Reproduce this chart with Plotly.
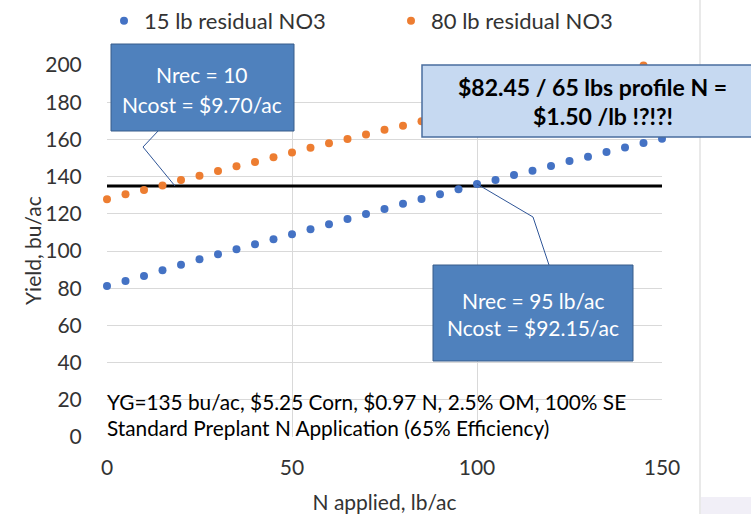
import plotly.graph_objects as go

# ---- data ----
n_applied = [0, 5, 10, 15, 20, 25, 30, 35, 40, 45, 50, 55, 60, 65, 70, 75,
             80, 85, 90, 95, 100, 105, 110, 115, 120, 125, 130, 135, 140, 145, 150]
yield_15lb = [81.2, 83.9, 86.6, 89.6, 92.6, 95.5, 98.2, 100.9, 103.6, 106.3, 109.0,
              111.7, 114.4, 117.2, 119.9, 122.6, 125.4, 128.0, 130.5, 133.2, 136.0,
              138.2, 140.9, 143.2, 145.7, 148.4, 150.7, 153.2, 155.7, 158.1, 160.4]
yield_80lb = [127.8, 130.5, 132.8, 135.2, 138.2, 140.5, 143.0, 145.5, 147.8, 150.4, 152.9,
              155.5, 157.9, 160.2, 162.7, 165.2, 167.4, 169.8, 172.3, 174.8, 177.3,
              179.8, 182.3, 184.8, 187.3, 189.8, 192.3, 194.8, 197.3, 199.7, 201.0]
goal_x = [0, 150]
goal_y = [135, 135]
series_names = ["15 lb residual NO3", "80 lb residual NO3"]
x_ticks = [0, 50, 100, 150]
y_ticks = [0, 20, 40, 60, 80, 100, 120, 140, 160, 180, 200]

FONT = "Lato"
INK = "#333333"
W, H = 751, 514
L, R, T, B = 107, 89, 65, 77
PW, PH = W - L - R, H - T - B


def px(x):
    return (x - L) / PW


def py(y):
    return (H - B - y) / PH


fig = go.Figure()
fig.add_trace(go.Scatter(x=goal_x, y=goal_y, mode="lines",
                         line=dict(color="black", width=3), showlegend=False,
                         hoverinfo="skip"))
fig.add_trace(go.Scatter(x=n_applied, y=yield_15lb, mode="markers", name=series_names[0],
                         marker=dict(color="#4472C4", size=8), cliponaxis=False))
fig.add_trace(go.Scatter(x=n_applied, y=yield_80lb, mode="markers", name=series_names[1],
                         marker=dict(color="#ED7D31", size=8), cliponaxis=False))

shapes = []
# right slide edge
shapes.append(dict(type="line", xref="paper", yref="paper", x0=px(700), x1=px(700),
                   y0=py(0), y1=py(H), line=dict(color="#e2e2e2", width=1.5), layer="below"))
shapes.append(dict(type="rect", xref="paper", yref="paper", x0=px(701), x1=px(W + 5),
                   y0=py(497), y1=py(H + 5), fillcolor="#f1eff7", line=dict(width=0)))
# callout lines
shapes.append(dict(type="path", xref="paper", yref="paper",
                   path=f"M {px(159)},{py(130)} L {px(143)},{py(147)} L {px(175)},{py(186)}",
                   line=dict(color="#2f5597", width=1)))
shapes.append(dict(type="path", xref="paper", yref="paper",
                   path=f"M {px(477)},{py(184)} L {px(533)},{py(217)} L {px(549)},{py(265)}",
                   line=dict(color="#2f5597", width=1)))
# boxes
shapes.append(dict(type="rect", xref="paper", yref="paper", x0=px(111), x1=px(294),
                   y0=py(44), y1=py(131), fillcolor="#4F81BD", line=dict(color="#385D8A", width=1)))
shapes.append(dict(type="rect", xref="paper", yref="paper", x0=px(422), x1=px(W + 10),
                   y0=py(65), y1=py(137), fillcolor="#C6D9F1", line=dict(color="#4A6E9E", width=1.5)))
shapes.append(dict(type="rect", xref="paper", yref="paper", x0=px(433), x1=px(633),
                   y0=py(265), y1=py(361), fillcolor="#4F81BD", line=dict(color="#385D8A", width=1)))

annotations = []


def txt(text, x, y, size=21, color="black", anchor="center", bold=False, angle=0):
    annotations.append(dict(text=f"<b>{text}</b>" if bold else text,
                            xref="paper", yref="paper", x=px(x), y=py(y),
                            xanchor=anchor, yanchor="middle", showarrow=False,
                            textangle=angle,
                            font=dict(family=FONT, size=size, color=color)))


txt("Nrec = 10", 202, 74, color="white")
txt("Ncost = $9.70/ac", 202, 104, color="white")
txt("$82.45 / 65 lbs profile N =", 592, 87, size=23, bold=True)
txt("$1.50 /lb !?!?!", 603, 116, size=23, bold=True)
txt("Nrec = 95 lb/ac", 533, 300, color="white")
txt("Ncost = $92.15/ac", 533, 327, color="white")
txt("YG=135 bu/ac, $5.25 Corn, $0.97 N, 2.5% OM, 100% SE", 105, 401, size=20.8, anchor="left")
txt("Standard Preplant N Application (65% Efficiency)", 105, 427, size=20.8, anchor="left")
# y-axis title
txt("Yield, bu/ac", 32, 251, size=21, color=INK, angle=-90)

fig.update_layout(
    width=W, height=H,
    margin=dict(l=L, r=R, t=T, b=B, autoexpand=False),
    paper_bgcolor="white", plot_bgcolor="white",
    font=dict(family=FONT, size=21, color=INK),
    showlegend=True,
    legend=dict(orientation="h", x=px(104), xanchor="left", y=py(21), yanchor="middle",
                font=dict(family=FONT, size=22, color=INK),
                entrywidth=242, bgcolor="rgba(0,0,0,0)"),
    shapes=shapes,
    annotations=annotations,
    xaxis=dict(range=[0, 150], tickvals=x_ticks, showgrid=True, gridcolor="#d9d9d9",
               gridwidth=1, zeroline=False, showline=False, ticks="",
               ticklabelstandoff=16, automargin=False,
               tickfont=dict(family=FONT, size=21, color=INK),
               title=dict(text="N applied, lb/ac", standoff=27,
                          font=dict(family=FONT, size=21, color=INK))),
    yaxis=dict(range=[0, 200], tickvals=y_ticks, showgrid=True, gridcolor="#d9d9d9",
               gridwidth=1, zeroline=False, showline=False,
               ticks="outside", ticklen=20, tickcolor="rgba(0,0,0,0)", automargin=False,
               tickfont=dict(family=FONT, size=21, color=INK)),
)

fig.write_html("out.html", config={"displayModeBar": False},
               post_script="document.body.style.margin='0';document.body.style.padding='0';")
